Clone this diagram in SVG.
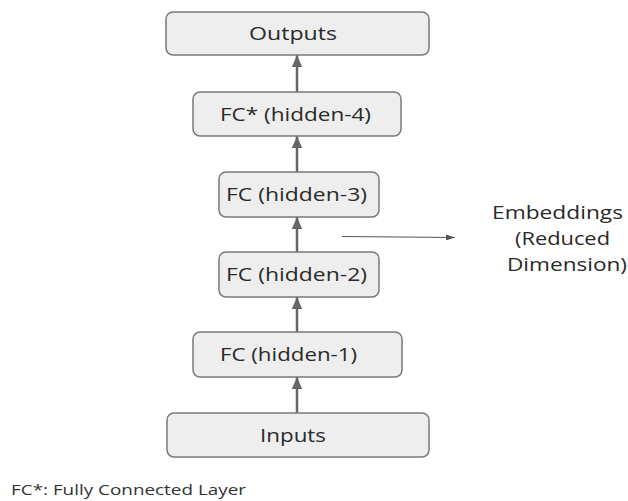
<svg xmlns="http://www.w3.org/2000/svg" width="628" height="501" viewBox="0 0 628 501">
  <style>
    .box { fill: #eeeeee; stroke: #7a7a7a; stroke-width: 1.5; }
    .label { font-family: "Open Sans", "Liberation Sans", Arial, sans-serif; font-size: 19px; fill: #2a2a2a; }
    .note { font-family: "Open Sans", "Liberation Sans", Arial, sans-serif; font-size: 18px; fill: #2a2a2a; }
    .foot { font-family: "Open Sans", "Liberation Sans", Arial, sans-serif; font-size: 15px; fill: #333333; }
    .flow { stroke: #666666; stroke-width: 2.5; fill: none; }
    .thin { stroke: #555555; stroke-width: 1.2; fill: none; }
  </style>
  <defs>
    <marker id="head" markerUnits="userSpaceOnUse" markerWidth="12" markerHeight="14" refX="14" refY="6" orient="auto" viewBox="0 0 14 12">
      <path d="M0,0 L14,6 L0,12 Z" fill="#666666"/>
    </marker>
    <marker id="headSmall" markerUnits="userSpaceOnUse" markerWidth="9" markerHeight="6" refX="9" refY="3" orient="auto" viewBox="0 0 9 6">
      <path d="M0,0 L9,3 L0,6 Z" fill="#555555"/>
    </marker>
  </defs>

  <!-- connectors -->
  <g id="connectors">
    <line class="flow" x1="297" y1="413" x2="297" y2="377" marker-end="url(#head)"/>
    <line class="flow" x1="297" y1="332" x2="297" y2="297" marker-end="url(#head)"/>
    <line class="flow" x1="297" y1="252" x2="297" y2="217" marker-end="url(#head)"/>
    <line class="flow" x1="297" y1="172" x2="297" y2="136" marker-end="url(#head)"/>
    <line class="flow" x1="297" y1="92" x2="297" y2="55" marker-end="url(#head)"/>
    <line class="thin" x1="342" y1="236.5" x2="455" y2="237.5" marker-end="url(#headSmall)"/>
  </g>

  <!-- nodes -->
  <g id="outputs">
    <rect class="box" x="166" y="12" width="263" height="43" rx="7"/>
    <text class="label" x="249" y="40" textLength="88" lengthAdjust="spacingAndGlyphs">Outputs</text>
  </g>
  <g id="hidden-4">
    <rect class="box" x="193" y="92" width="208" height="44" rx="7"/>
    <text class="label" x="220" y="121" textLength="151" lengthAdjust="spacingAndGlyphs">FC* (hidden-4)</text>
  </g>
  <g id="hidden-3">
    <rect class="box" x="219" y="172" width="160" height="45" rx="7"/>
    <text class="label" x="226" y="201" textLength="141" lengthAdjust="spacingAndGlyphs">FC (hidden-3)</text>
  </g>
  <g id="hidden-2">
    <rect class="box" x="219" y="252" width="160" height="45" rx="7"/>
    <text class="label" x="226" y="281" textLength="141" lengthAdjust="spacingAndGlyphs">FC (hidden-2)</text>
  </g>
  <g id="hidden-1">
    <rect class="box" x="193" y="332" width="209" height="45" rx="7"/>
    <text class="label" x="220" y="361" textLength="137" lengthAdjust="spacingAndGlyphs">FC (hidden-1)</text>
  </g>
  <g id="inputs">
    <rect class="box" x="167" y="413" width="262" height="44" rx="7"/>
    <text class="label" x="260" y="442" textLength="66" lengthAdjust="spacingAndGlyphs">Inputs</text>
  </g>

  <!-- side annotation -->
  <g id="embeddings">
    <text class="note" x="492" y="219" textLength="131" lengthAdjust="spacingAndGlyphs">Embeddings</text>
    <text class="note" x="515" y="245" textLength="95" lengthAdjust="spacingAndGlyphs">(Reduced</text>
    <text class="note" x="507" y="271" textLength="120" lengthAdjust="spacingAndGlyphs">Dimension)</text>
  </g>

  <!-- legend -->
  <text class="foot" x="11" y="495" textLength="235" lengthAdjust="spacingAndGlyphs">FC*: Fully Connected Layer</text>
</svg>
